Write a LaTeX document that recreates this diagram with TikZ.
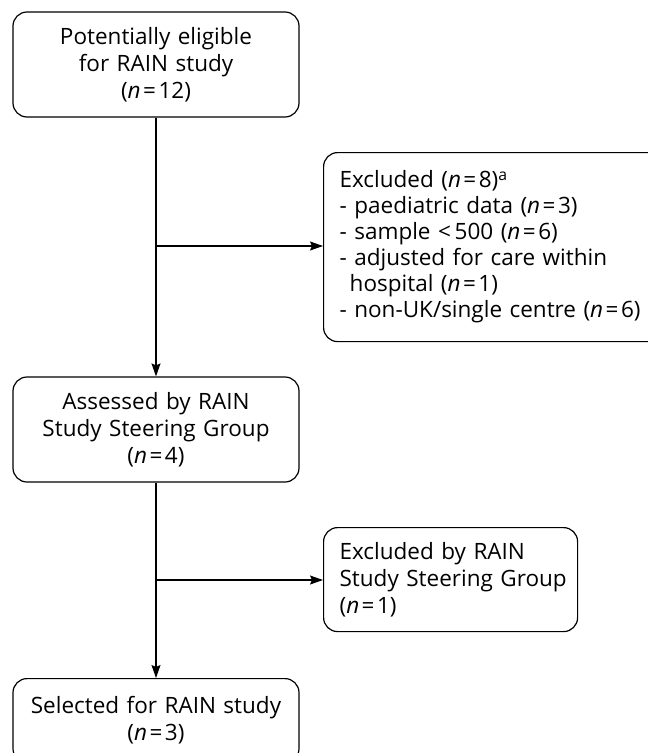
\documentclass[tikz,border=0pt]{standalone}
\usepackage{fontspec}
\setmainfont{Open Sans}
\usetikzlibrary{arrows.meta}
\tikzset{
  box/.style={draw=black, line width=1.2pt, rounded corners=14pt, inner ysep=0pt, font=\fontsize{22.5}{27}\selectfont},
  cbox/.style={box, inner xsep=0pt, align=center, minimum width=286pt, text width=286pt},
  lbox/.style={box, inner xsep=16pt, align=left, anchor=north west},
  arr/.style={line width=1.2pt, -{Stealth[length=13pt,width=9pt,inset=2pt]}},
  ln/.style={line width=1.2pt}
}
\newcommand{\nn}[1]{(\textit{n}\kern2.5pt=\kern2.5pt#1)}
\begin{document}
\begin{tikzpicture}[x=1pt,y=-1pt]
\useasboundingbox (0,0) rectangle (648,753);
\clip (0,0) rectangle (648,753);
\node[cbox, minimum height=105pt] (b1) at (156,64.5) {Potentially eligible\\for RAIN study\\\nn{12}};
\node[lbox, minimum height=189pt, text width=345pt, font=\fontsize{22.5}{26}\selectfont] (b2) at (323,152) {Excluded \nn{8}\textsuperscript{a}\\- paediatric data \nn{3}\\- sample {<}\,500 \nn{6}\\- adjusted for care within\\\hspace*{0.45em}hospital \nn{1}\\- non-UK/single centre \nn{6}};
\node[cbox, minimum height=105pt] (b3) at (156,429.5) {Assessed by RAIN\\Study Steering Group\\\nn{4}};
\node[lbox, minimum height=104pt, text width=222pt] (b4) at (323,527) {\mbox{Excluded by RAIN}\\\mbox{Study Steering Group}\\\nn{1}};
\node[cbox, minimum height=84pt, anchor=north] (b5) at (156,678) {Selected for RAIN study\\\nn{3}};
\coordinate (j1) at (156,246);
\coordinate (j2) at (156,580);
\draw[arr] (b1.south) -- (b3.north);
\draw[arr] (j1) -- (j1 -| b2.west);
\draw[arr] (b3.south) -- (b5.north);
\draw[arr] (j2) -- (j2 -| b4.west);
\end{tikzpicture}
\end{document}
